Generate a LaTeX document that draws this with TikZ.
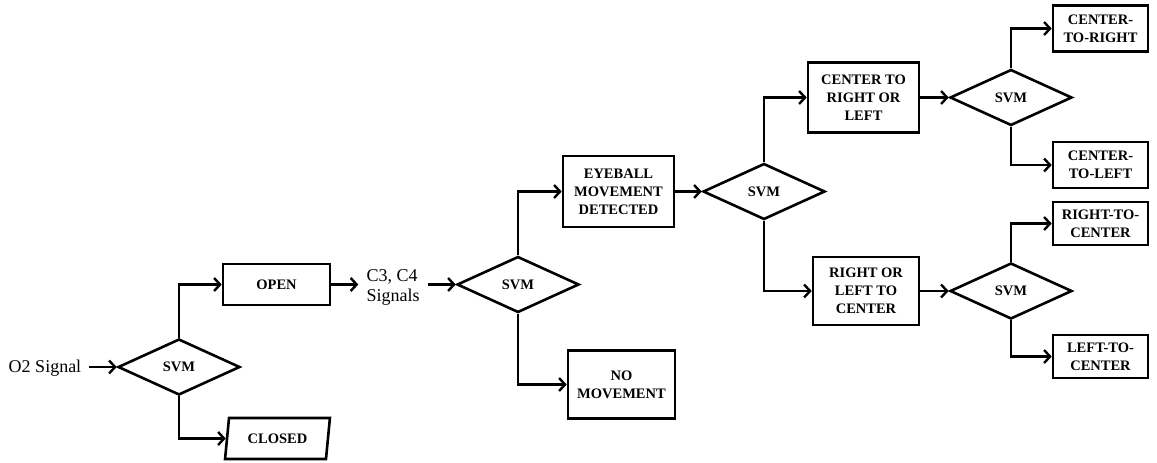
\documentclass[tikz,border=0pt]{standalone}
\usepackage{fontspec}
\setmainfont{Liberation Serif}
\usetikzlibrary{shapes.geometric,arrows.meta}
\begin{document}
\begin{tikzpicture}[x=1pt,y=-1pt,
  box/.style={draw,line width=2.6pt,align=center,font=\fontsize{14.5}{18}\selectfont\bfseries,inner sep=0pt},
  dec/.style={diamond,draw,line width=2.6pt,inner sep=0pt,minimum width=122pt,minimum height=56pt,font=\fontsize{14.5}{18}\selectfont\bfseries},
  sig/.style={font=\fontsize{18}{20}\selectfont,inner xsep=8pt,inner ysep=0pt,align=left},
  arr/.style={line width=2.4pt,-{Straight Barb[length=6pt,width=13pt,line width=2.4pt]}}
]
\useasboundingbox (0,0) rectangle (1157,463);

\node[sig] (o2) at (45,368) {O2 Signal};
\node[dec] (svm1) at (179,367) {SVM};
\node[box,minimum width=107pt,minimum height=41pt] (open) at (276.5,284.5) {OPEN};
\node[box,trapezium,trapezium left angle=76,trapezium right angle=104,trapezium stretches=true,minimum width=105pt,minimum height=41pt] (closed) at (277.5,438.5) {CLOSED};

\node[sig] (c34) at (393,287) {C3, C4\\Signals};
\node[dec] (svm2) at (518,284.5) {SVM};
\node[box,minimum width=111pt,minimum height=71pt] (eye) at (618.5,191.5) {EYEBALL\\MOVEMENT\\DETECTED};
\node[box,minimum width=107pt,minimum height=68pt] (nomove) at (621.5,384.5) {NO\\MOVEMENT};

\node[dec] (svm3) at (764,191.5) {SVM};
\node[box,minimum width=111pt,minimum height=70pt] (crl) at (863.5,97.5) {CENTER TO\\RIGHT OR\\LEFT};
\node[box,minimum width=106pt,minimum height=68pt] (rlc) at (866,291) {RIGHT OR\\LEFT TO\\CENTER};

\node[dec] (svm4) at (1011,97.5) {SVM};
\node[dec] (svm5) at (1011,291) {SVM};
\node[box,minimum width=95pt,minimum height=46pt] (ctr) at (1100.5,28.5) {CENTER-\\TO-RIGHT};
\node[box,minimum width=95pt,minimum height=46pt] (ctl) at (1100.5,165) {CENTER-\\TO-LEFT};
\node[box,minimum width=95pt,minimum height=43pt] (rtc) at (1100.5,223.5) {RIGHT-TO-\\CENTER};
\node[box,minimum width=95pt,minimum height=43pt] (ltc) at (1100.5,356.5) {LEFT-TO-\\CENTER};

\draw[arr] (o2.east |- svm1.west) -- (svm1.west);
\draw[arr] (svm1.north) |- (open.west);
\draw[arr] (svm1.south) |- (closed.west);
\draw[arr] (open.east) -- (open.east -| c34.west);
\draw[arr] (svm2.west -| c34.east) -- (svm2.west);
\draw[arr] (svm2.north) |- (eye.west);
\draw[arr] (svm2.south) |- (nomove.west);
\draw[arr] (eye.east) -- (svm3.west);
\draw[arr] (svm3.north) |- (crl.west);
\draw[arr] (svm3.south) |- (rlc.west);
\draw[arr] (crl.east) -- (svm4.west);
\draw[arr] (rlc.east) -- (svm5.west);
\draw[arr] (svm4.north) |- (ctr.west);
\draw[arr] (svm4.south) |- (ctl.west);
\draw[arr] (svm5.north) |- (rtc.west);
\draw[arr] (svm5.south) |- (ltc.west);
\end{tikzpicture}
\end{document}
